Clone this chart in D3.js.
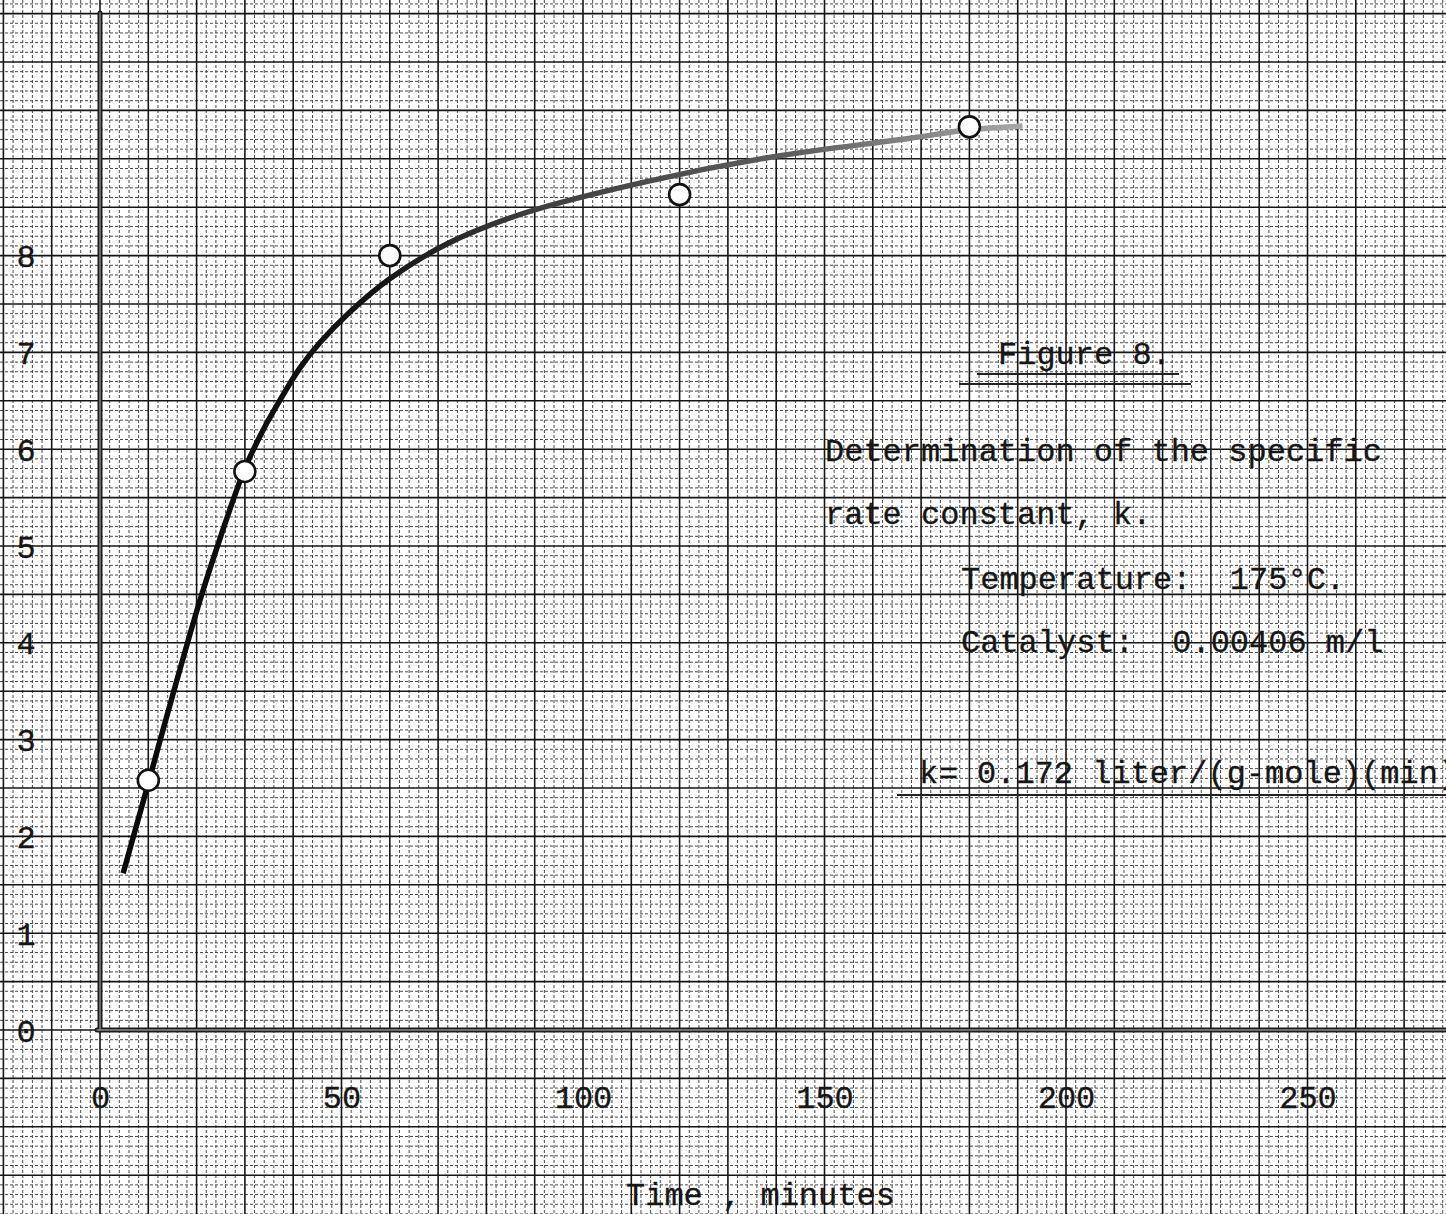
<!DOCTYPE html>
<html>
<head>
<meta charset="utf-8">
<script src="https://cdn.jsdelivr.net/npm/d3@7"></script>
<style>
  html, body { margin: 0; padding: 0; background: #fff; }
  svg { display: block; }
  .tw { font-family: "Liberation Mono", "Courier New", monospace; font-size: 32px; fill: #161616; stroke: #161616; stroke-width: 0.3px; white-space: pre; }
</style>
</head>
<body>
<svg id="chart" width="1446" height="1214"></svg>
<script>
// ---- data ----
const timeTicks = [0, 50, 100, 150, 200, 250];
const valueTicks = [0, 1, 2, 3, 4, 5, 6, 7, 8];
const obsTime = [10, 30, 60, 120, 180];
const obsValue = [2.58, 5.77, 8.0, 8.63, 9.33];
const curveTime = [4.8, 10, 15, 20.7, 25, 30, 34, 37.3, 41.4, 45.5, 51.8, 60, 71.8, 87.9, 113.6, 139.2, 167.4, 180, 191];
const curveValue = [1.62, 2.55, 3.45, 4.44, 5.1, 5.8, 6.22, 6.51, 6.84, 7.10, 7.42, 7.76, 8.12, 8.44, 8.77, 9.02, 9.21, 9.30, 9.34];
const xLabel = "Time , minutes";
const figTitle = "Figure 8.";
const noteLines = ["Determination of the specific", "rate constant, k."];
const condLines = ["Temperature:  175°C.", "Catalyst:  0.00406 m/l"];
const kParts = ["k", "=", "0.172 liter/(g-mole)(min)"];

// ---- layout ----
const W = 1446, H = 1214;
const svg = d3.select("#chart");
const x = d3.scaleLinear().domain([0, 250]).range([100, 1307.5]);
const y = d3.scaleLinear().domain([0, 8]).range([1030, 255.6]);

// ---- graph paper grid ----
const grid = svg.append("g");
const tMin = x.invert(0), tMax = x.invert(W);
const vMin = y.invert(H), vMax = y.invert(0);
const xLines = d3.range(Math.ceil(tMin / 2), Math.floor(tMax / 2) + 1).map(k => k * 2);
const yLines = d3.range(Math.ceil(vMin * 10), Math.floor(vMax * 10) + 1);
grid.selectAll("line.vminor").data(xLines.filter(t => t % 10 !== 0)).join("line")
  .attr("x1", d => x(d)).attr("x2", d => x(d)).attr("y1", 0).attr("y2", H)
  .attr("stroke", "#4a4a4a").attr("stroke-width", 1).attr("stroke-dasharray", "3,2");
grid.selectAll("line.hminor").data(yLines.filter(k => k % 5 !== 0)).join("line")
  .attr("y1", d => y(d / 10)).attr("y2", d => y(d / 10)).attr("x1", 0).attr("x2", W)
  .attr("stroke", "#4a4a4a").attr("stroke-width", 1).attr("stroke-dasharray", "3,2");
grid.selectAll("line.vmajor").data(xLines.filter(t => t % 10 === 0)).join("line")
  .attr("x1", d => x(d)).attr("x2", d => x(d)).attr("y1", 0).attr("y2", H)
  .attr("stroke", "#151515").attr("stroke-width", 1.6);
grid.selectAll("line.hmajor").data(yLines.filter(k => k % 5 === 0)).join("line")
  .attr("y1", d => y(d / 10)).attr("y2", d => y(d / 10)).attr("x1", 0).attr("x2", W)
  .attr("stroke", "#151515").attr("stroke-width", 1.6);

// ---- axes lines (heavy drawn lines) ----
const axisG = svg.append("g");
const yTopVal = y.invert(13);
[["#1c1c1c", 5], ["#8a8a8a", 1.4]].forEach(([c, w]) => {
  axisG.append("line").attr("x1", x(0)).attr("x2", x(0)).attr("y1", y(yTopVal)).attr("y2", y(0))
    .attr("stroke", c).attr("stroke-width", w).attr("stroke-linecap", "round");
  axisG.append("line").attr("x1", x(-0.6)).attr("x2", W).attr("y1", y(0)).attr("y2", y(0))
    .attr("stroke", c).attr("stroke-width", w).attr("stroke-linecap", "round");
});

// ---- tick labels via d3 axes ----
const xAxis = svg.append("g").attr("transform", `translate(0,${y(0)})`)
  .call(d3.axisBottom(x).tickValues(timeTicks).tickSize(0).tickFormat(d3.format("d")));
xAxis.select(".domain").remove();
xAxis.selectAll("text").attr("class", "tw").attr("y", 78).attr("dy", 0);
xAxis.attr("font-family", null).attr("font-size", null);

const yAxis = svg.append("g").attr("transform", `translate(26,0)`)
  .call(d3.axisLeft(y).tickValues(valueTicks).tickSize(0).tickFormat(d3.format("d")));
yAxis.select(".domain").remove();
yAxis.selectAll("text").attr("class", "tw").attr("x", 0).attr("dy", 11).attr("text-anchor", "middle");
yAxis.attr("font-family", null).attr("font-size", null);

// ---- fitted curve ----
const defs = svg.append("defs");
const grad = defs.append("linearGradient").attr("id", "fade")
  .attr("gradientUnits", "userSpaceOnUse")
  .attr("x1", x(curveTime[0])).attr("x2", x(curveTime[curveTime.length - 1]))
  .attr("y1", 0).attr("y2", 0);
grad.append("stop").attr("offset", "0%").attr("stop-color", "#0a0a0a");
grad.append("stop").attr("offset", "28%").attr("stop-color", "#141414");
grad.append("stop").attr("offset", "45%").attr("stop-color", "#3d3d3d");
grad.append("stop").attr("offset", "75%").attr("stop-color", "#5e5e5e");
grad.append("stop").attr("offset", "100%").attr("stop-color", "#a8a8a8");

const curvePts = curveTime.map((t, i) => [t, curveValue[i]]);
const line = d3.line().x(d => x(d[0])).y(d => y(d[1])).curve(d3.curveCatmullRom.alpha(0.5));
svg.append("path").datum(curvePts).attr("d", line)
  .attr("fill", "none").attr("stroke", "url(#fade)").attr("stroke-width", 5.5)
  .attr("stroke-linecap", "butt");

// ---- observed points ----
svg.selectAll("circle.obs").data(obsTime.map((t, i) => [t, obsValue[i]])).join("circle")
  .attr("cx", d => x(d[0])).attr("cy", d => y(d[1])).attr("r", 10.5)
  .attr("fill", "#fff").attr("stroke", "#111").attr("stroke-width", 2.6);

// ---- annotations ----
const ann = svg.append("g");
ann.append("text").attr("class", "tw").attr("x", 998).attr("y", 364).text(figTitle);
ann.append("line").attr("x1", 977).attr("x2", 1179).attr("y1", 374).attr("y2", 374)
  .attr("stroke", "#222").attr("stroke-width", 1.8);
ann.append("line").attr("x1", 959).attr("x2", 1191).attr("y1", 384).attr("y2", 384)
  .attr("stroke", "#222").attr("stroke-width", 1.8);
ann.selectAll("text.note").data(noteLines).join("text").attr("class", "tw")
  .attr("x", 825).attr("y", (d, i) => 461 + i * 63).text(d => d);
ann.selectAll("text.cond").data(condLines).join("text").attr("class", "tw")
  .attr("x", 961).attr("y", (d, i) => 589 + i * 63).text(d => d);
const kt = ann.append("text").attr("class", "tw").attr("y", 783);
kt.append("tspan").attr("x", 919).text(kParts[0]);
kt.append("tspan").attr("x", 939).text(kParts[1]);
kt.append("tspan").attr("x", 977).text(kParts[2]);
ann.append("line").attr("x1", 897).attr("x2", W).attr("y1", 795).attr("y2", 795)
  .attr("stroke", "#222").attr("stroke-width", 2);

svg.append("text").attr("class", "tw").attr("x", 626).attr("y", 1205).text(xLabel);
</script>
</body>
</html>
